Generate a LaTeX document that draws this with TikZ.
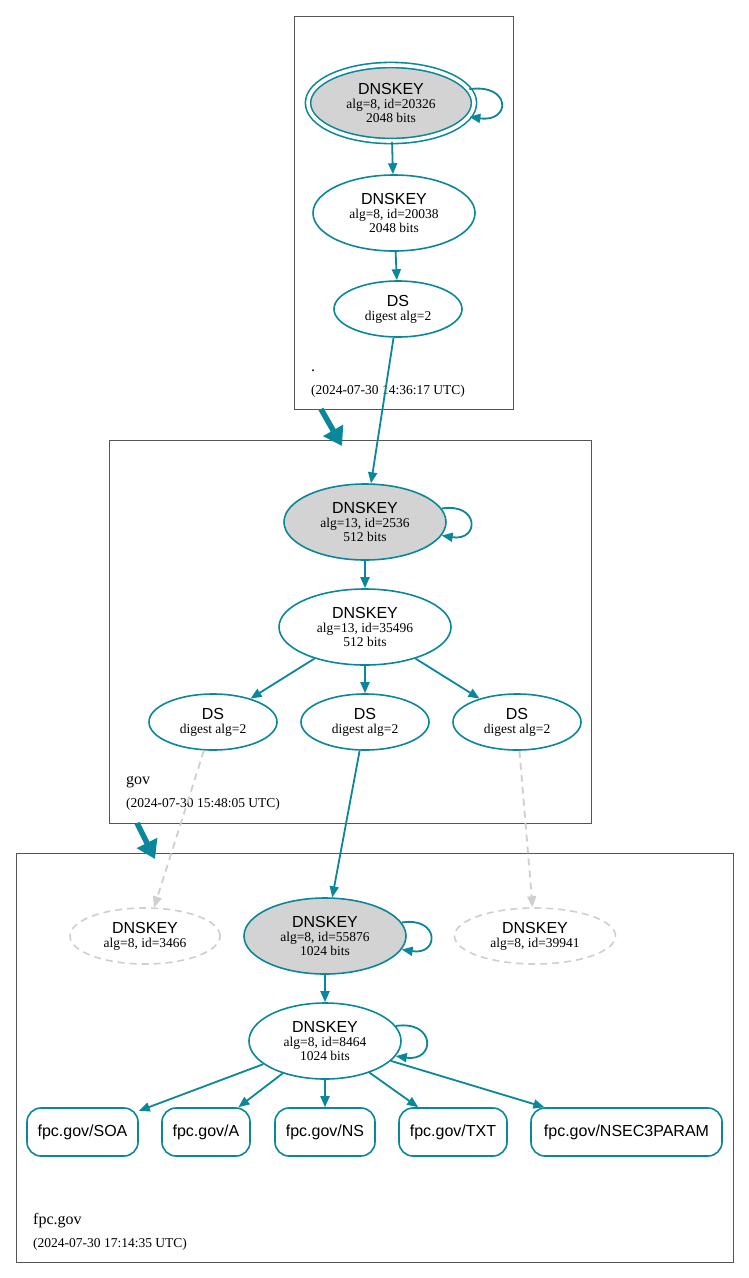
\documentclass[tikz,border=0pt]{standalone}
\usepackage{fontspec}
\setmainfont{Liberation Serif}
\setsansfont{Liberation Sans}
\usetikzlibrary{shapes.geometric,arrows.meta}
\definecolor{sec}{HTML}{0A879A}
\definecolor{ne}{HTML}{CFCFCF}
\definecolor{kfill}{HTML}{D3D3D3}
\definecolor{zb}{HTML}{555555}
\newcommand{\kname}[1]{{\fontsize{16bp}{16bp}\selectfont\sffamily #1}}
\begin{document}
\begin{tikzpicture}[x=1bp,y=-1bp,
  font=\fontsize{13.5bp}{13.8bp}\selectfont,
  ell/.style={ellipse, draw=sec, line width=1.6bp, inner sep=0pt, align=center},
  ksk/.style={ell, fill=kfill},
  nell/.style={ellipse, draw=ne, line width=1.6bp, dash pattern=on 7bp off 5bp, inner sep=0pt, align=center},
  rr/.style={rectangle, rounded corners=14bp, draw=sec, line width=1.6bp, minimum height=48bp, inner sep=0pt, font=\fontsize{16bp}{16bp}\selectfont\sffamily},
  zone/.style={rectangle, draw=zb, line width=0.9bp, inner sep=0pt},
  arr/.style={draw=sec, line width=1.8bp, -{Triangle[length=11bp,width=9bp]}},
  narr/.style={draw=ne, line width=1.8bp, dash pattern=on 7bp off 5bp, -{Triangle[length=11bp,width=9bp]}},
  deleg/.style={draw=sec, line width=5.5bp, -{Triangle[length=18bp,width=22bp]}},
  zlabel/.style={anchor=base west, inner sep=0pt, font=\fontsize{16bp}{16bp}\selectfont},
  ztime/.style={anchor=base west, inner sep=0pt}
]
\path[use as bounding box, fill=white] (0,0) rectangle (749,1278);

% zones
\node[zone, minimum width=219bp, minimum height=393bp] (zroot) at (403.5,212.5) {};
\node[zone, minimum width=482bp, minimum height=383bp] (zgov) at (350,631.5) {};
\node[zone, minimum width=717bp, minimum height=409bp] (zfpc) at (374.5,1057.5) {};

% root
\node[ksk, minimum width=166bp, minimum height=76bp, double=white, double distance=3.6bp] (rk) at (391,103)
  {\kname{DNSKEY}\\alg=8, id=20326\\2048 bits};
\node[ell, minimum width=162bp, minimum height=76bp] (rz) at (394,213)
  {\kname{DNSKEY}\\alg=8, id=20038\\2048 bits};
\node[ell, minimum width=128bp, minimum height=56bp] (rds) at (398,309)
  {\kname{DS}\\digest alg=2};
\node[zlabel] (rl) at (311,371) {.};
\node[ztime] (rt) at (311,394) {(2024-07-30 14:36:17 UTC)};

% gov
\node[ksk, minimum width=162bp, minimum height=76bp] (gk) at (365,522)
  {\kname{DNSKEY}\\alg=13, id=2536\\512 bits};
\node[ell, minimum width=172bp, minimum height=76bp] (gz) at (365,627)
  {\kname{DNSKEY}\\alg=13, id=35496\\512 bits};
\node[ell, minimum width=128bp, minimum height=56bp] (gds1) at (213,722)
  {\kname{DS}\\digest alg=2};
\node[ell, minimum width=128bp, minimum height=56bp] (gds2) at (365,722)
  {\kname{DS}\\digest alg=2};
\node[ell, minimum width=128bp, minimum height=56bp] (gds3) at (517,722)
  {\kname{DS}\\digest alg=2};
\node[zlabel] (gl) at (126,784) {gov};
\node[ztime] (gt) at (126,807) {(2024-07-30 15:48:05 UTC)};

% fpc.gov
\node[nell, minimum width=150bp, minimum height=56bp] (fk1) at (145,936)
  {\kname{DNSKEY}\\alg=8, id=3466};
\node[ksk, minimum width=162bp, minimum height=76bp] (fk2) at (325,936)
  {\kname{DNSKEY}\\alg=8, id=55876\\1024 bits};
\node[nell, minimum width=161bp, minimum height=56bp] (fk3) at (535,936)
  {\kname{DNSKEY}\\alg=8, id=39941};
\node[ell, minimum width=152bp, minimum height=76bp] (fz) at (325,1041)
  {\kname{DNSKEY}\\alg=8, id=8464\\1024 bits};
\node[rr, minimum width=111bp] (soa) at (82.5,1132) {fpc.gov/SOA};
\node[rr, minimum width=88bp] (ra) at (206,1132) {fpc.gov/A};
\node[rr, minimum width=100bp] (rns) at (325,1132) {fpc.gov/NS};
\node[rr, minimum width=108bp] (rtxt) at (453,1132) {fpc.gov/TXT};
\node[rr, minimum width=191bp] (rn3) at (626.5,1132) {fpc.gov/NSEC3PARAM};
\node[zlabel] (fl) at (33,1224) {fpc.gov};
\node[ztime] (ft) at (33,1247) {(2024-07-30 17:14:35 UTC)};

% edges root
\draw[arr] (rk.10) .. controls +(42,-6) and +(42,6) .. (rk.-10);
\draw[arr] (rk) -- (rz);
\draw[arr] (rz) -- (rds);
\draw[arr] (rds) -- (gk);

% delegation
\coordinate (d1a) at (321,409);
\coordinate (d1b) at (342,446);
\draw[deleg] (d1a) -- (d1b);
\coordinate (d2a) at (137,823);
\coordinate (d2b) at (155,859);
\draw[deleg] (d2a) -- (d2b);

% edges gov
\draw[arr] (gk.10) .. controls +(38,-6) and +(38,6) .. (gk.-10);
\draw[arr] (gk) -- (gz);
\draw[arr] (gz) -- (gds1);
\draw[arr] (gz) -- (gds2);
\draw[arr] (gz) -- (gds3);
\draw[narr] (gds1) -- (fk1);
\draw[arr] (gds2) -- (fk2);
\draw[narr] (gds3) -- (fk3);

% edges fpc
\draw[arr] (fk2.10) .. controls +(38,-6) and +(38,6) .. (fk2.-10);
\draw[arr] (fk2) -- (fz);
\draw[arr] (fz.12) .. controls +(40,-6) and +(40,6) .. (fz.-12);
\draw[arr] (fz) -- (soa);
\draw[arr] (fz) -- (ra);
\draw[arr] (fz) -- (rns);
\draw[arr] (fz) -- (rtxt);
\draw[arr] (fz) -- (rn3);
\end{tikzpicture}
\end{document}
